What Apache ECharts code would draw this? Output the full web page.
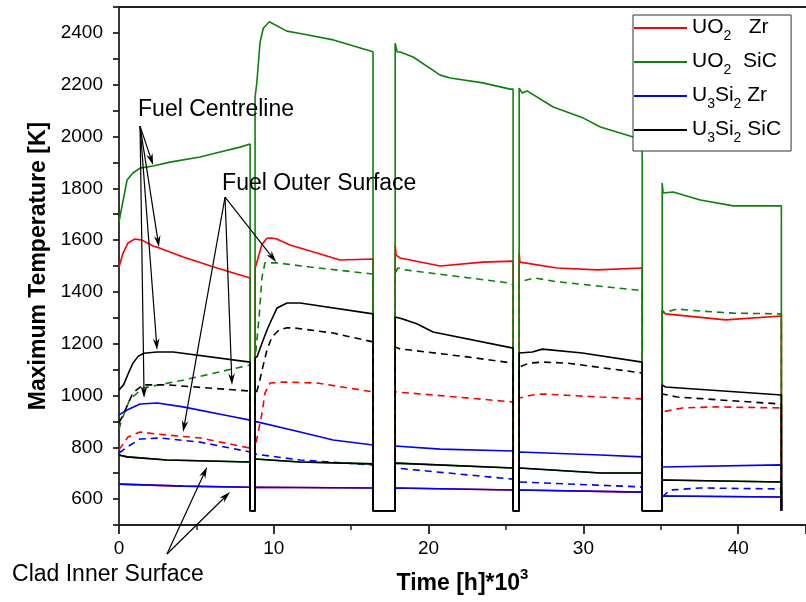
<!DOCTYPE html>
<html>
<head>
<meta charset="utf-8">
<script src="https://cdn.jsdelivr.net/npm/echarts@6/dist/echarts.min.js"></script>
<style>
    html, body { margin: 0; padding: 0; background: #fff; }
    #chart { width: 806px; height: 602px; }
</style>
</head>
<body>
<div id="chart"></div>
<script>
// legend entries and axis ticks
const legendNames = ['UO2 Zr', 'UO2 SiC', 'U3Si2 Zr', 'U3Si2 SiC'];
const legendLabels = ['UO2   Zr', 'UO2  SiC', 'U3Si2 Zr', 'U3Si2 SiC'];
const xTickLabels = [0, 10, 20, 30, 40];
const yTickLabels = [600, 800, 1000, 1200, 1400, 1600, 1800, 2000, 2200, 2400];
const SHUTDOWN_TEMP = 555;

// each array = 5 operating cycles of [time kh, temperature K]
const uo2ZrCentre = [
    [[0, 1496], [0.26, 1550], [0.58, 1589], [1.03, 1604], [1.49, 1600], [2.2, 1577], [2.65, 1569], [4.14, 1535], [6.33, 1492], [8.47, 1454]],
    [[8.79, 1490], [8.85, 1496], [9.22, 1581], [9.55, 1607], [9.87, 1608], [10.19, 1604], [11.05, 1581], [12.78, 1550], [14.28, 1523], [16.41, 1527]],
    [[17.84, 1581], [17.9, 1542], [18.16, 1531], [20.75, 1500], [23.5, 1515], [25.46, 1519]],
    [[25.85, 1550], [25.9, 1515], [28.3, 1492], [30.9, 1485], [33.8, 1492]],
    [[35.09, 1330], [35.3, 1315], [39.2, 1292], [42.79, 1307]]
];
const uo2SicCentre = [
    [[0, 1670], [0.52, 1832], [0.9, 1859], [1.36, 1878], [2.2, 1886], [3.3, 1901], [5.24, 1921], [6.53, 1940], [7.82, 1959], [8.47, 1971]],
    [[8.79, 2152], [8.9, 2205], [9.11, 2363], [9.32, 2418], [9.71, 2443], [10.84, 2407], [11.7, 2398], [13.85, 2373], [16.41, 2327]],
    [[17.84, 2360], [17.97, 2326], [18.16, 2326], [19.0, 2307], [20.75, 2237], [21.4, 2226], [23.5, 2207], [25.27, 2183], [25.46, 2183]],
    [[25.85, 2187], [26.05, 2168], [26.36, 2176], [28.05, 2114], [30.0, 2071], [31.1, 2037], [33.22, 1998], [33.8, 1994]],
    [[35.09, 1820], [35.15, 1782], [35.8, 1786], [37.55, 1755], [39.68, 1732], [42.79, 1732]]
];
const u3si2ZrCentre = [
    [[0, 925], [0.52, 944], [1.36, 967], [2.46, 971], [4.14, 956], [7.2, 920], [8.47, 905]],
    [[8.79, 900], [11.7, 859], [13.83, 828], [16.41, 809]],
    [[17.84, 805], [20.75, 793], [25.46, 786]],
    [[25.85, 782], [31.1, 770], [33.8, 763]],
    [[35.09, 724], [42.79, 732]]
];
const u3si2SicCentre = [
    [[0, 1021], [0.3, 1042], [0.6, 1085], [0.9, 1125], [1.25, 1152], [1.6, 1163], [2.46, 1168], [3.5, 1168], [8.47, 1129]],
    [[8.79, 1145], [8.92, 1150], [9.24, 1203], [9.56, 1253], [9.76, 1280], [10.21, 1338], [10.86, 1357], [11.7, 1357], [16.41, 1315]],
    [[17.84, 1303], [18.16, 1298], [18.6, 1290], [19.2, 1278], [20.29, 1245], [25.46, 1183]],
    [[25.85, 1164], [26.7, 1168], [27.35, 1179], [29.93, 1164], [33.8, 1129]],
    [[35.09, 1041], [35.3, 1033], [42.79, 1002]]
];
const uo2ZrSurface = [
    [[0, 790], [0.58, 840], [1.36, 859], [2.46, 851], [5.24, 836], [8.47, 797]],
    [[8.79, 800], [8.98, 855], [9.24, 932], [9.43, 1010], [9.76, 1048], [10.6, 1052], [12.8, 1048], [16.41, 1014]],
    [[17.84, 1014], [20.3, 1002], [25.46, 975]],
    [[25.85, 990], [26.7, 1002], [27.35, 1006], [31.1, 994], [33.8, 987]],
    [[35.09, 937], [36.4, 952], [38.5, 956], [42.79, 952]]
];
const uo2SicSurface = [
    [[0, 870], [0.2, 910], [0.7, 985], [1.55, 1029], [4.2, 1060], [8.47, 1118]],
    [[8.79, 1140], [9.05, 1303], [9.24, 1458], [9.43, 1512], [10.21, 1512], [12.34, 1496], [16.41, 1469]],
    [[17.84, 1470], [18.0, 1492], [18.5, 1485], [25.27, 1434], [25.46, 1427]],
    [[25.85, 1438], [26.85, 1454], [28.2, 1440], [33.8, 1405]],
    [[35.09, 1318], [36.06, 1334], [37.55, 1326], [39.68, 1318], [42.79, 1315]]
];
const u3si2ZrSurface = [
    [[0, 778], [0.52, 801], [1.36, 832], [2.65, 836], [5.24, 820], [8.47, 782]],
    [[8.79, 774], [11.7, 751], [16.41, 732]],
    [[17.84, 720], [25.46, 677]],
    [[25.85, 666], [33.8, 647]],
    [[35.09, 608], [35.6, 635], [37.55, 643], [42.79, 639]]
];
const u3si2SicSurface = [
    [[0, 895], [0.2, 917], [0.9, 1010], [1.55, 1041], [3.1, 1041], [8.3, 1018], [8.47, 1015]],
    [[8.79, 990], [9.1, 1060], [9.24, 1098], [9.56, 1176], [9.88, 1226], [10.34, 1253], [10.8, 1261], [11.3, 1261], [13.83, 1241], [16.41, 1207]],
    [[17.84, 1187], [18.16, 1180], [22.5, 1149], [25.46, 1125]],
    [[25.85, 1110], [26.5, 1125], [27.4, 1129], [28.95, 1125], [33.8, 1087]],
    [[35.09, 1006], [36.06, 994], [42.79, 967]]
];
const zrCladInner = [
    [[0, 658], [4.14, 650], [8.47, 646]],
    [[8.79, 646], [16.41, 643]],
    [[17.84, 643], [25.46, 635]],
    [[25.85, 635], [33.8, 627]],
    [[35.09, 612], [42.79, 608]]
];
const sicCladInner = [
    [[0, 770], [0.52, 763], [3.1, 751], [8.47, 743]],
    [[8.79, 755], [11.7, 743], [16.41, 736]],
    [[17.84, 739], [25.46, 720]],
    [[25.85, 720], [31.1, 701], [33.8, 701]],
    [[35.09, 674], [42.79, 666]]
];

// annotation anchors in data space: label, arrow origin, arrow tips
const centrelineNote = { text: 'Fuel Centreline', at: [1.23, 2102], from: [1.36, 2040], tips: [[2.2, 1890], [2.58, 1573], [2.46, 1176], [1.62, 990]] };
const outerNote = { text: 'Fuel Outer Surface', at: [6.66, 1817], from: [6.85, 1766], tips: [[10.15, 1515], [7.3, 1041], [4.14, 859]] };
const cladNote = { text: 'Clad Inner Surface', at: [-6.91, 307], from: [3.1, 388], tips: [[5.69, 724], [7.17, 627]] };

const RED = '#ff0000';
const GREEN = '#0a820a';
const BLUE = '#0000ff';
const BLACK = '#000000';
const FONT = '"Liberation Sans", Arial, sans-serif';

function withShutdowns(cycles) {
    const pts = [];
    cycles.forEach((cyc, i) => {
        if (i > 0) pts.push([cyc[0][0], SHUTDOWN_TEMP]);
        cyc.forEach(p => pts.push(p));
        pts.push([cyc[cyc.length - 1][0], SHUTDOWN_TEMP]);
    });
    return pts;
}

function lineSeries(name, cycles, color, dashed) {
    return {
        name: name,
        type: 'line',
        data: withShutdowns(cycles),
        showSymbol: false,
        symbol: 'none',
        animation: false,
        itemStyle: { color: color },
        lineStyle: { color: color, width: 1.6, type: dashed ? [7, 5] : 'solid' }
    };
}

function legendRich(label) {
    return label.split(/(\d)/).filter(s => s.length).map(s => /^\d$/.test(s) ? '{s|' + s + '}' : '{n|' + s + '}').join('');
}

const chartDom = document.getElementById('chart');
const chart = echarts.init(chartDom, null, { renderer: 'canvas' });

const axisLineStyle = { color: '#222', width: 1.8 };

chart.setOption({
    backgroundColor: '#fff',
    animation: false,
    textStyle: { fontFamily: FONT },
    grid: { left: 119, right: 0, top: 7, bottom: 77, outerBoundsMode: 'none' },
    legend: {
        data: legendNames.map(n => ({ name: n, icon: 'rect' })),
        orient: 'vertical',
        left: 633,
        top: 15,
        padding: [2, 10, 6, 1],
        itemGap: 8,
        itemWidth: 53,
        itemHeight: 2,
        backgroundColor: '#fff',
        borderColor: '#333',
        borderWidth: 1,
        selectedMode: false,
        formatter: name => legendRich(legendLabels[legendNames.indexOf(name)]),
        textStyle: {
            color: '#000',
            fontFamily: FONT,
            rich: {
                n: { fontSize: 21, fontFamily: FONT, lineHeight: 22, verticalAlign: 'top', color: '#000' },
                s: { fontSize: 14, fontFamily: FONT, lineHeight: 14, padding: [12, 0, 0, 0], verticalAlign: 'top', color: '#000' }
            }
        }
    },
    xAxis: [{
        type: 'value',
        min: 0,
        max: 44.38,
        interval: 10,
        name: '{t|Time [h]*10}{p|3}',
        nameLocation: 'middle',
        nameGap: 42,
        nameTextStyle: {
            rich: {
                t: { fontSize: 23, fontWeight: 'bold', fontFamily: FONT, color: '#000', lineHeight: 28, verticalAlign: 'bottom' },
                p: { fontSize: 15, fontWeight: 'bold', fontFamily: FONT, color: '#000', lineHeight: 15, verticalAlign: 'top' }
            }
        },
        axisLine: { show: true, onZero: false, lineStyle: axisLineStyle },
        axisTick: { show: true, inside: false, length: 9, lineStyle: axisLineStyle },
        minorTick: { show: true, splitNumber: 2, length: 5, lineStyle: { color: '#222', width: 1.5 } },
        splitLine: { show: false },
        axisLabel: {
            fontSize: 19, color: '#000', fontFamily: FONT, margin: 14,
            showMaxLabel: false,
            formatter: v => xTickLabels.includes(v) ? String(v) : ''
        }
    }, {
        type: 'value',
        position: 'top',
        min: 0,
        max: 44.38,
        axisLine: { show: true, onZero: false, lineStyle: axisLineStyle },
        axisTick: { show: false },
        axisLabel: { show: false },
        splitLine: { show: false }
    }],
    yAxis: {
        type: 'value',
        min: 500,
        max: 2500,
        interval: 100,
        name: 'Maximum Temperature [K]',
        nameLocation: 'middle',
        nameGap: 67,
        nameTextStyle: { fontSize: 23, fontWeight: 'bold', color: '#000', fontFamily: FONT },
        axisLine: { show: true, onZero: false, lineStyle: axisLineStyle },
        axisTick: { show: true, inside: false, length: 6, lineStyle: axisLineStyle },
        splitLine: { show: false },
        axisLabel: {
            fontSize: 19, color: '#000', fontFamily: FONT, margin: 16,
            formatter: v => yTickLabels.includes(v) ? String(v) : ''
        }
    },
    series: [
        lineSeries('UO2 Zr', uo2ZrCentre, RED, false),
        lineSeries('UO2 SiC', uo2SicCentre, GREEN, false),
        lineSeries('U3Si2 Zr', u3si2ZrCentre, BLUE, false),
        lineSeries('UO2 Zr', uo2ZrSurface, RED, true),
        lineSeries('UO2 SiC', uo2SicSurface, GREEN, true),
        lineSeries('U3Si2 Zr', u3si2ZrSurface, BLUE, true),
        lineSeries('UO2 Zr', zrCladInner, RED, false),
        lineSeries('UO2 SiC', sicCladInner, GREEN, false),
        lineSeries('U3Si2 Zr', zrCladInner, BLUE, false),
        lineSeries('U3Si2 SiC', u3si2SicCentre, BLACK, false),
        lineSeries('U3Si2 SiC', u3si2SicSurface, BLACK, true),
        lineSeries('U3Si2 SiC', sicCladInner, BLACK, false)
    ]
});

// annotations: labels and arrows placed from data coordinates
function toPx(p) {
    return chart.convertToPixel({ xAxisIndex: 0, yAxisIndex: 0 }, p);
}

function arrow(from, to) {
    const a = toPx(from), b = toPx(to);
    const ang = Math.atan2(b[1] - a[1], b[0] - a[0]);
    const len = 12, spread = 0.28, back = 8;
    const p1 = [b[0] - len * Math.cos(ang - spread), b[1] - len * Math.sin(ang - spread)];
    const p2 = [b[0] - len * Math.cos(ang + spread), b[1] - len * Math.sin(ang + spread)];
    const p3 = [b[0] - back * Math.cos(ang), b[1] - back * Math.sin(ang)];
    return [
        { type: 'line', shape: { x1: a[0], y1: a[1], x2: p3[0], y2: p3[1] }, style: { stroke: '#000', lineWidth: 1.2 }, z: 100 },
        { type: 'polygon', shape: { points: [p1, b, p2, p3] }, style: { fill: '#000' }, z: 100 }
    ];
}

const graphics = [];
[centrelineNote, outerNote, cladNote].forEach(note => {
    const pos = toPx(note.at);
    graphics.push({
        type: 'text', x: pos[0], y: pos[1], z: 100,
        style: { text: note.text, font: '23px ' + FONT, fill: '#000', verticalAlign: 'middle', align: 'left' }
    });
    note.tips.forEach(t => arrow(note.from, t).forEach(g => graphics.push(g)));
});
chart.setOption({ graphic: graphics });
</script>
</body>
</html>
